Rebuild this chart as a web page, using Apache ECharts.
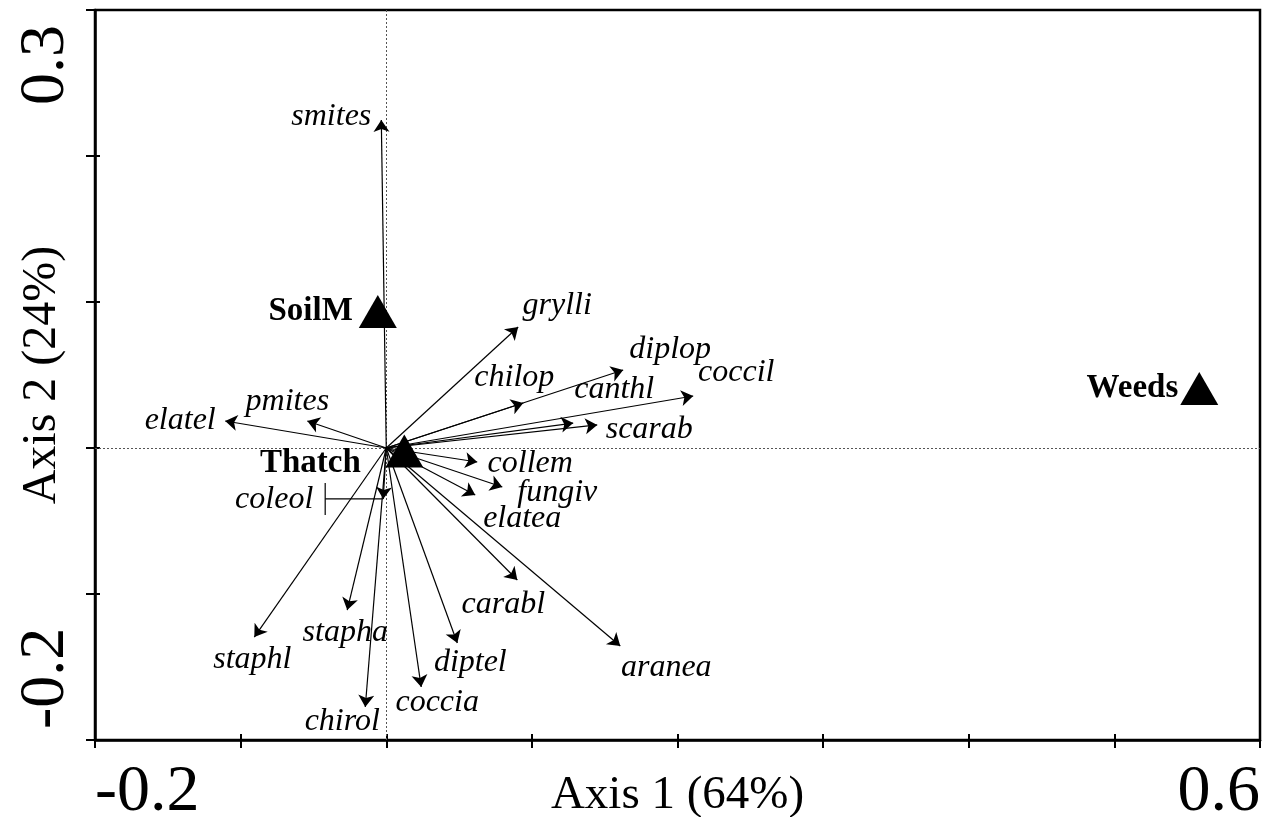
<!DOCTYPE html>
<html>
<head>
<meta charset="utf-8">
<script src="https://cdn.jsdelivr.net/npm/echarts@6/dist/echarts.min.js"></script>
<style>
html,body{margin:0;padding:0;background:#fff;}
#chart{width:1266px;height:817px;}
</style>
</head>
<body>
<div id="chart"></div>
<script>
// ---- data ----
const species = ['smites','grylli','diplop','chilop','canthl','coccil','scarab','collem','fungiv','elatea','carabl','aranea','diptel','coccia','chirol','stapha','staphl','coleol','elatel','pmites'];
const speciesAxis1 = [-0.0034, 0.0906, 0.1627, 0.0941, 0.1284, 0.2108, 0.1449, 0.0625, 0.0797, 0.0611, 0.0900, 0.1607, 0.0488, 0.0240, -0.0144, -0.0268, -0.0906, -0.0021, -0.1106, -0.0542];
const speciesAxis2 = [0.2247, 0.0829, 0.0534, 0.0308, 0.0171, 0.0356, 0.0158, -0.0096, -0.0267, -0.0322, -0.0904, -0.1356, -0.1336, -0.1637, -0.1774, -0.1110, -0.1295, -0.0349, 0.0185, 0.0185];
const envNames = ['SoilM','Thatch','Weeds'];
const envAxis1 = [-0.0058, 0.0124, 0.5583];
const envAxis2 = [0.0935, -0.0021, 0.0408];
const xTickLabels = ['-0.2','0.6'];
const yTickLabels = ['-0.2','0.3'];
const xName = 'Axis 1 (64%)';
const yName = 'Axis 2 (24%)';

// ---- layout (label offsets in px from arrow tip) ----
const speciesLabelOffset = {
  smites:[-50,-3], grylli:[39,-21], diplop:[47,-20], chilop:[-9,-25], canthl:[41,-33],
  coccil:[43,-23], scarab:[52,5], collem:[53,2], fungiv:[55,6], elatea:[47,24],
  carabl:[-14,25], aranea:[46,22], diptel:[13,20], coccia:[16,16], chirol:[-23,15],
  stapha:[-2,23], staphl:[-2,23], coleol:[-109,1], elatel:[-45,0], pmites:[-20,-19]
};
const envLabelLayout = {
  SoilM:{position:'left', distance:6},
  Thatch:{position:'inside', offset:[-94,12]},
  Weeds:{position:'left', distance:2}
};

const FONT = 'Liberation Serif';
const chart = echarts.init(document.getElementById('chart'), null, {renderer:'canvas'});

const fmt = (labels) => (v) => {
  for (const l of labels) { if (Math.abs(v - parseFloat(l)) < 1e-9) return l; }
  return '';
};

const baseX = {type:'value', min:-0.2, max:0.6, interval:0.1, splitLine:{show:false}};
const baseY = {type:'value', min:-0.2, max:0.3, interval:0.1, splitLine:{show:false}};

const option = {
  backgroundColor:'#fff',
  animation:false,
  grid:{left:95, right:6, top:10, bottom:77, show:true, borderColor:'#000', borderWidth:2.5,
    backgroundColor:'transparent', containLabel:false, outerBoundsMode:'none'},
  xAxis:[
    Object.assign({}, baseX, {
      position:'bottom',
      axisLine:{show:true, onZero:false, lineStyle:{color:'#000', width:2.5}},
      axisTick:{show:true, inside:false, length:8, lineStyle:{color:'#000', width:2}},
      axisLabel:{show:true, formatter:fmt(xTickLabels), fontFamily:FONT, fontSize:66, color:'#000', margin:20,
        alignMinLabel:'left', alignMaxLabel:'right', hideOverlap:false},
      name:xName, nameLocation:'middle', nameGap:32, nameMoveOverlap:false,
      nameTextStyle:{fontFamily:FONT, fontSize:47, color:'#000'}
    }),
    Object.assign({}, baseX, {
      position:'bottom',
      axisLine:{show:false, onZero:false},
      axisTick:{show:true, inside:true, length:6, lineStyle:{color:'#000', width:2}},
      axisLabel:{show:false}
    })
  ],
  yAxis:[
    Object.assign({}, baseY, {
      position:'left',
      axisLine:{show:true, onZero:false, lineStyle:{color:'#000', width:2.5}},
      axisTick:{show:true, inside:false, length:9, lineStyle:{color:'#000', width:2}},
      axisLabel:{show:true, rotate:90, formatter:fmt(yTickLabels), fontFamily:FONT, fontSize:64, color:'#000', margin:17,
        alignMinLabel:'left', alignMaxLabel:'right', hideOverlap:false, padding:[0,15,0,11]},
      name:yName, nameLocation:'middle', nameGap:29, nameMoveOverlap:false,
      nameTextStyle:{fontFamily:FONT, fontSize:48, color:'#000'}
    }),
    Object.assign({}, baseY, {
      position:'left',
      axisLine:{show:false, onZero:false},
      axisTick:{show:true, inside:true, length:5, lineStyle:{color:'#000', width:2}},
      axisLabel:{show:false}
    })
  ],
  series:[
    {
      type:'lines', coordinateSystem:'cartesian2d', xAxisIndex:0, yAxisIndex:0, z:3,
      symbol:['none','arrow'], symbolSize:12,
      lineStyle:{color:'#000', width:1.2, opacity:1, curveness:0},
      data: species.map((n,i)=>({name:n, coords:[[0,0],[speciesAxis1[i], speciesAxis2[i]]]})),
      markLine:{
        silent:true, symbol:'none', label:{show:false}, z:1,
        lineStyle:{type:[2,2], color:'#555', width:1, opacity:1},
        data:[{xAxis:0},{yAxis:0}]
      }
    },
    {
      type:'scatter', xAxisIndex:0, yAxisIndex:0, z:4, symbolSize:1,
      itemStyle:{color:'rgba(0,0,0,0)', opacity:1},
      data: species.map((n,i)=>({
        name:n, value:[speciesAxis1[i], speciesAxis2[i]],
        label:{show:true, formatter:n, position:'inside', offset:speciesLabelOffset[n], opacity:1,
          align:'center', verticalAlign:'middle', fontStyle:'italic', fontFamily:FONT, fontSize:32, color:'#000'}
      }))
    },
    {
      type:'custom', xAxisIndex:0, yAxisIndex:0, z:3,
      data: species.map((n,i)=>[speciesAxis1[i], speciesAxis2[i], n]).filter(d=>d[2]==='coleol'),
      renderItem:function(params, api){
        const p = api.coord([api.value(0), api.value(1)]);
        return {type:'group', children:[
          {type:'line', shape:{x1:p[0]-58, y1:p[1], x2:p[0], y2:p[1]}, style:{stroke:'#000', lineWidth:1.2}},
          {type:'line', shape:{x1:p[0]-58, y1:p[1]-16, x2:p[0]-58, y2:p[1]+16}, style:{stroke:'#000', lineWidth:1.2}}
        ]};
      }
    },
    {
      type:'scatter', xAxisIndex:0, yAxisIndex:0, z:5, symbol:'triangle', symbolSize:[38,33],
      itemStyle:{color:'#000', opacity:1},
      data: envNames.map((n,i)=>({
        name:n, value:[envAxis1[i], envAxis2[i]],
        label:Object.assign({show:true, formatter:n, fontWeight:'bold', fontFamily:FONT, fontSize:33, color:'#000', opacity:1}, envLabelLayout[n])
      }))
    }
  ]
};
chart.setOption(option);
</script>
</body>
</html>
